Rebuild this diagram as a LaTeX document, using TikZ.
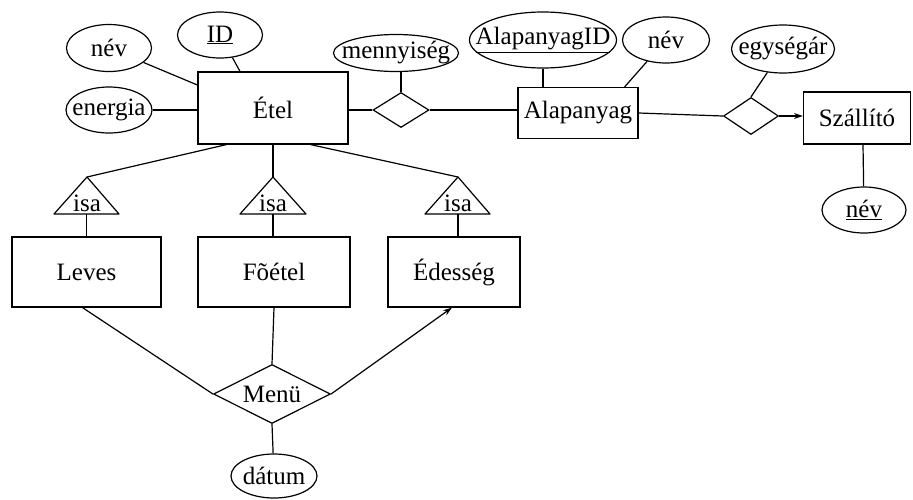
\documentclass[tikz,border=0pt]{standalone}
\usepackage{fontspec}
\setmainfont{Liberation Serif}
\usetikzlibrary{shapes.geometric,arrows.meta}
\begin{document}
\begin{tikzpicture}[x=1pt,y=-1pt,line width=1.2pt,
  every node/.style={font=\fontsize{25}{29}\selectfont},
  ent/.style={draw,rectangle,inner sep=0pt},
  attr/.style={draw,ellipse,inner xsep=-22pt,inner ysep=-6pt},
  rel/.style={draw,diamond,inner sep=0pt},
  reltxt/.style={draw,diamond,inner xsep=-20pt,inner ysep=-6pt},
  isatxt/.style={inner sep=0pt},
  arr/.style={-{Stealth[length=9pt,width=6pt]}}]
\useasboundingbox (0,0) rectangle (913,499);
% entities
\node[ent,minimum width=150pt,minimum height=72pt] (etel) at (273,108) {Étel};
\node[ent,minimum width=120pt,minimum height=51pt] (alap) at (578,113) {Alapanyag};
\node[ent,minimum width=107pt,minimum height=52pt] (szall) at (857,118) {Szállító};
\node[ent,minimum width=149pt,minimum height=70pt] (leves) at (86.5,272) {Leves};
\node[ent,minimum width=152pt,minimum height=70pt] (foetel) at (274,272) {Fõétel};
\node[ent,minimum width=132pt,minimum height=70pt] (edes) at (454,272) {Édesség};
% attributes
\node[attr,minimum width=85pt,minimum height=47pt] (nev1) at (109,48) {név};
\node[attr,minimum width=85pt,minimum height=46pt] (id) at (220,35) {\underline{ID}};
\node[attr,minimum width=86pt,minimum height=46pt] (energia) at (109,110) {energia};
\node[attr,minimum width=125pt,minimum height=37pt] (menny) at (396,53) {mennyiség};
\node[attr,minimum width=147pt,minimum height=56pt] (alapid) at (543,40) {\underline{AlapanyagID}};
\node[attr,minimum width=87pt,minimum height=46pt] (nev3) at (666,40) {név};
\node[attr,minimum width=103pt,minimum height=48pt] (egyseg) at (783,49) {egységár};
\node[attr,minimum width=84pt,minimum height=46pt] (nev2) at (864,210) {\underline{név}};
\node[attr,minimum width=86pt,minimum height=44pt] (datum) at (274,476) {dátum};
% relationships
\node[rel,minimum width=56pt,minimum height=35pt] (rel1) at (401,110) {};
\node[rel,minimum width=55pt,minimum height=37pt] (rel2) at (751,116) {};
\node[reltxt,minimum width=117pt,minimum height=59pt] (menu) at (272,394) {Menü};
% isa triangles
\coordinate (t1a) at (87,177); \coordinate (t1l) at (54,214); \coordinate (t1r) at (119,214); \coordinate (t1b) at (86.5,214);
\coordinate (t2a) at (273,177); \coordinate (t2l) at (240,214); \coordinate (t2r) at (306,214); \coordinate (t2b) at (273,214);
\coordinate (t3a) at (458,177); \coordinate (t3l) at (425,214); \coordinate (t3r) at (490,214); \coordinate (t3b) at (458,214);
\draw[line join=round] (t1a) -- (t1l) -- (t1r) -- cycle;
\draw[line join=round] (t2a) -- (t2l) -- (t2r) -- cycle;
\draw[line join=round] (t3a) -- (t3l) -- (t3r) -- cycle;
\node[isatxt] (isa1) at (87,203) {isa};
\node[isatxt] (isa2) at (273,203) {isa};
\node[isatxt] (isa3) at (458,203) {isa};
% connectors
\draw (nev1) -- ([yshift=23pt]etel.west);
\draw (id) -- ([xshift=-33pt]etel.north);
\draw (energia.east) -- (energia.east -| etel.west);
\draw (rel1.west -| etel.east) -- (rel1.west);
\draw (rel1.east) -- (rel1.east -| alap.west);
\draw (rel1.north) -- (rel1.north |- menny.south);
\draw (alapid.south) -- (alapid.south |- alap.north);
\draw (nev3) -- ([xshift=-14pt]alap.north east);
\draw (alap.east) -- (rel2.west);
\draw (egyseg) -- (rel2.north);
\draw[arr] (rel2.east) -- (rel2.east -| szall.west);
\draw ([xshift=6pt]szall.south) -- (nev2);
\draw ([xshift=29pt]etel.south west) -- (t1a);
\draw (etel.south) -- (t2a);
\draw ([xshift=-38pt]etel.south east) -- (t3a);
\draw (t1b) -- (t1b |- leves.north);
\draw (t2b) -- (t2b |- foetel.north);
\draw (t3b) -- (t3b |- edes.north);
\draw ([xshift=-4pt]leves.south) -- (menu.west);
\draw (foetel.south) -- (menu.north);
\draw[arr] (menu.east) -- ([xshift=-2pt]edes.south);
\draw (menu.south) -- (datum);
\end{tikzpicture}
\end{document}
